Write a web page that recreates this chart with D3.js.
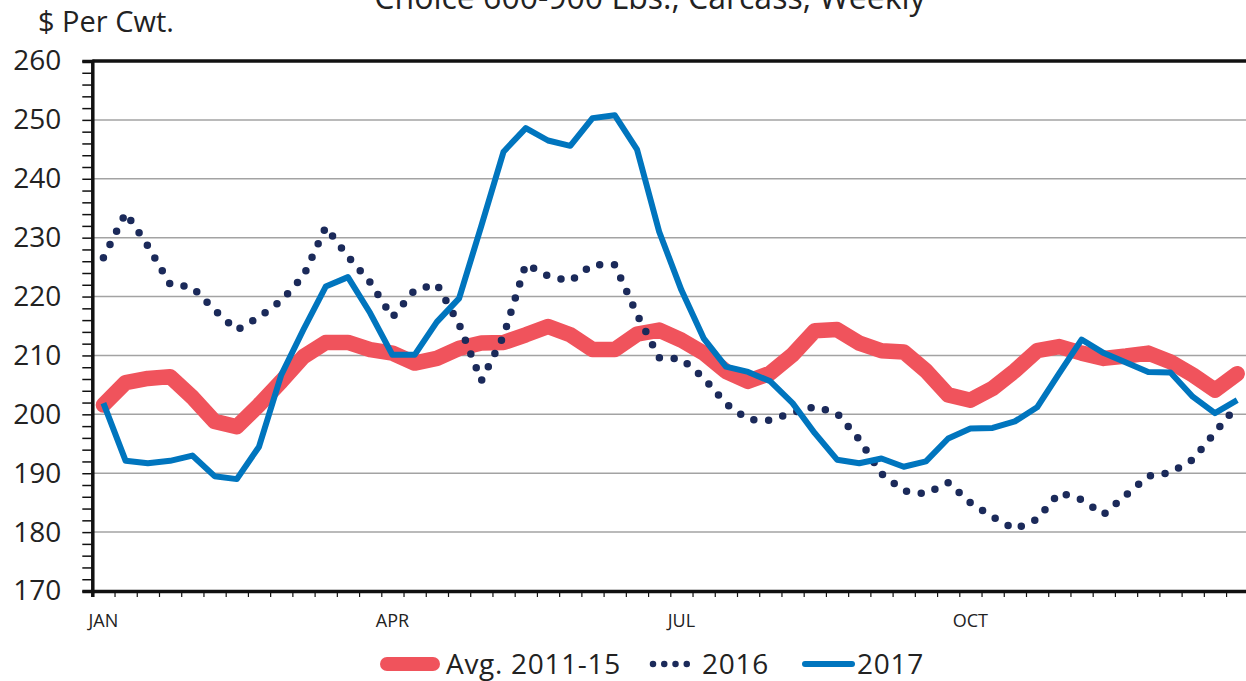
<!DOCTYPE html>
<html>
<head>
<meta charset="utf-8">
<script src="https://cdnjs.cloudflare.com/ajax/libs/d3/7.8.5/d3.min.js"></script>
<style>
  body { margin: 0; background: #fff; }
  svg { display: block; font-family: "Open Sans", sans-serif; }
</style>
</head>
<body>
<div id="lineContainer"></div>
<script>
// weekly boxed beef cutout, Choice 600-900 lbs, $ per cwt
var avg2011_15 = [201.6, 205.4, 206.1, 206.4, 202.9, 198.8, 197.9, 201.6, 205.6, 209.8,
  212.2, 212.2, 211.0, 210.4, 208.7, 209.5, 211.2, 212.1, 212.2, 213.5,
  214.9, 213.5, 211.0, 211.0, 213.6, 214.3, 212.6, 210.4, 207.3, 205.6,
  207.0, 210.1, 214.2, 214.4, 212.1, 210.8, 210.6, 207.4, 203.3, 202.4,
  204.4, 207.4, 210.8, 211.5, 210.4, 209.5, 209.9, 210.4, 208.9, 206.7,
  204.1, 206.9];

var y2016 = [226.6, 234.2, 228.6, 222.1, 221.6, 217.7, 214.3, 216.5, 219.3, 223.5,
  231.8, 226.8, 222.4, 216.5, 221.1, 222.1, 215.3, 205.7, 213.3, 225.5,
  223.5, 222.6, 225.4, 225.4, 217.0, 209.6, 209.4, 206.2, 201.8, 199.1,
  199.0, 200.3, 201.3, 200.2, 195.7, 189.9, 187.0, 186.5, 188.4, 185.0,
  182.6, 180.5, 182.2, 186.7, 185.5, 183.0, 186.3, 189.5, 190.1, 192.3,
  196.9, 201.5];

var y2017 = [201.9, 192.1, 191.7, 192.1, 193.0, 189.5, 189.0, 194.5, 206.7, 214.4,
  221.7, 223.3, 217.2, 210.1, 210.1, 215.7, 219.7, 232.0, 244.6, 248.6,
  246.5, 245.6, 250.3, 250.8, 245.0, 231.0, 221.1, 212.9, 208.1, 207.2,
  205.6, 201.9, 196.8, 192.3, 191.7, 192.5, 191.1, 192.0, 195.9, 197.6,
  197.7, 198.8, 201.2, 207.0, 212.7, 210.4, 208.8, 207.2, 207.1, 203.0,
  200.2, 202.4];

var monthLabels = ["JAN", "APR", "JUL", "OCT"];
var monthWeeks = [0, 13, 26, 39];

var yTicks = [170, 180, 190, 200, 210, 220, 230, 240, 250, 260];

var seriesNames = ["Avg. 2011-15", "2016", "2017"];

var width = 1246, height = 681;
var margin = {top: 61, left: 92.3, bottom: 90};
var plotRight = 1248.3;
var nWeeks = avg2011_15.length;

var svg = d3.select("#lineContainer")
  .append("svg")
  .attr("width", width)
  .attr("height", height);

var xBand = d3.scaleBand()
  .domain(d3.range(nWeeks))
  .range([margin.left, plotRight])
  .paddingInner(0).paddingOuter(0);

var xEdge = d3.scaleLinear()
  .domain([0, nWeeks])
  .range([margin.left, plotRight]);

var yScale = d3.scaleLinear()
  .domain([170, 260])
  .range([591, margin.top]);

function xc(i) { return xBand(i) + xBand.bandwidth() / 2; }

// gridlines
svg.append("g")
  .selectAll("line")
  .data(yTicks.filter(function (d) { return d > 170 && d < 260; }))
  .enter().append("line")
  .attr("x1", margin.left).attr("x2", plotRight)
  .attr("y1", function (d) { return yScale(d); })
  .attr("y2", function (d) { return yScale(d); })
  .attr("stroke", "#a3a3a3")
  .attr("stroke-width", 1.5);

// top border
svg.append("line")
  .attr("x1", margin.left).attr("x2", plotRight)
  .attr("y1", yScale(260)).attr("y2", yScale(260))
  .attr("stroke", "#111").attr("stroke-width", 3.5);

// y axis
var yAxis = svg.append("g")
  .attr("transform", "translate(" + margin.left + ",0)")
  .call(d3.axisLeft(yScale)
    .tickValues(d3.range(170, 261, 2))
    .tickSize(10)
    .tickPadding(21)
    .tickFormat(function (d) { return d % 10 === 0 ? d : ""; }));
yAxis.select(".domain").attr("stroke", "#111").attr("stroke-width", 3.5);
yAxis.selectAll(".tick line").attr("stroke", "#111").attr("stroke-width", 1.5);
yAxis.selectAll("text")
  .attr("font-size", 28)
  .attr("fill", "#222")
  .attr("font-family", "Open Sans");

// x axis
var xAxis = svg.append("g")
  .attr("transform", "translate(0," + yScale(170) + ")")
  .call(d3.axisBottom(xEdge)
    .tickValues(d3.range(nWeeks + 1))
    .tickSize(6)
    .tickFormat(""));
xAxis.select(".domain").attr("stroke", "#111").attr("stroke-width", 3.5);
xAxis.selectAll(".tick line").attr("stroke", "#111").attr("stroke-width", 1.2);

svg.append("g")
  .selectAll("text")
  .data(monthLabels)
  .enter().append("text")
  .attr("x", function (d, i) { return xc(monthWeeks[i]); })
  .attr("y", 620)
  .attr("text-anchor", "middle")
  .attr("dominant-baseline", "central")
  .attr("font-size", 18)
  .attr("fill", "#222")
  .text(function (d) { return d; });

// title + unit
svg.append("text")
  .attr("x", 650).attr("y", 9)
  .attr("text-anchor", "middle")
  .attr("font-size", 32)
  .attr("fill", "#222")
  .text("Choice 600-900 Lbs., Carcass, Weekly");

svg.append("text")
  .attr("x", 38).attr("y", 32)
  .attr("font-size", 29)
  .attr("fill", "#222")
  .text("$ Per Cwt.");

// lines
var line = d3.line()
  .x(function (d, i) { return xc(i); })
  .y(function (d) { return yScale(d); });

svg.append("path")
  .attr("d", line(avg2011_15))
  .attr("fill", "none")
  .attr("stroke", "#f0535c")
  .attr("stroke-width", 15.5)
  .attr("stroke-linejoin", "round")
  .attr("stroke-linecap", "round");

svg.append("path")
  .attr("d", line(y2016))
  .attr("fill", "none")
  .attr("stroke", "#1b2a5a")
  .attr("stroke-width", 7.5)
  .attr("stroke-linecap", "round")
  .attr("stroke-dasharray", "0 14.8");

svg.append("path")
  .attr("d", line(y2017))
  .attr("fill", "none")
  .attr("stroke", "#0075be")
  .attr("stroke-width", 6)
  .attr("stroke-linejoin", "round");

// legend
var legend = svg.append("g");
legend.append("line")
  .attr("x1", 387).attr("x2", 433).attr("y1", 664).attr("y2", 664)
  .attr("stroke", "#f0535c").attr("stroke-width", 14).attr("stroke-linecap", "round");
legend.append("line")
  .attr("x1", 653).attr("x2", 698).attr("y1", 664).attr("y2", 664)
  .attr("stroke", "#1b2a5a").attr("stroke-width", 6.5).attr("stroke-linecap", "round")
  .attr("stroke-dasharray", "0 11.25");
legend.append("line")
  .attr("x1", 805).attr("x2", 852).attr("y1", 664).attr("y2", 664)
  .attr("stroke", "#0075be").attr("stroke-width", 6).attr("stroke-linecap", "round");

var legendX = [446, 702, 857];
legend.selectAll("text")
  .data(seriesNames)
  .enter().append("text")
  .attr("x", function (d, i) { return legendX[i]; })
  .attr("y", 674)
  .attr("font-size", 28)
  .attr("letter-spacing", 0.7)
  .attr("fill", "#222")
  .text(function (d) { return d; });
</script>
</body>
</html>
